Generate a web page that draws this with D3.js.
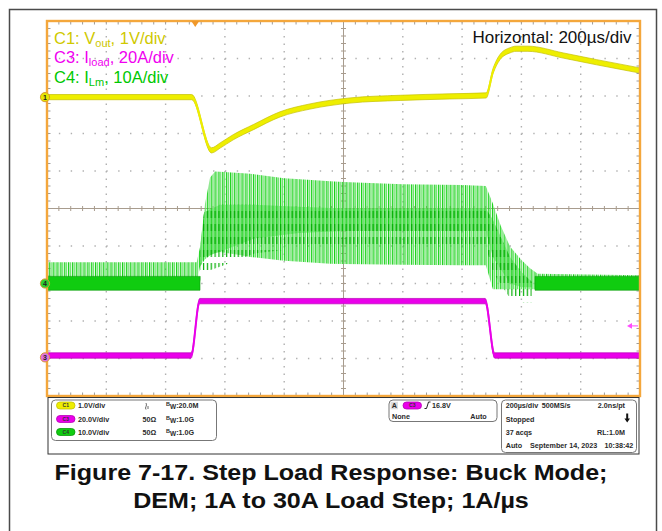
<!DOCTYPE html>
<html>
<head>
<meta charset="utf-8">
<script src="https://cdn.jsdelivr.net/npm/d3@7"></script>
<style>
  body { margin: 0; background: #fff; }
  svg { display: block; font-family: "Liberation Sans", Arial, Helvetica, sans-serif; }
</style>
</head>
<body>
<svg id="chart" width="662" height="531"></svg>
<script>
// ---- horizontal: 200 µs/div, 10 divisions, 0 = trigger ----
const timeDomain = [-500, 1500];
const hDivisions = 10;
const vDivisions = 10;

// ---- C1: Vout deviation (V), 1 V/div ----
const voutTime  = [-500, -12, 55, 84, 128, 196, 286, 387, 522, 691, 859, 981, 1005, 1028, 1062, 1082, 1122, 1241, 1354, 1500];
const voutValue = [0, 0, -1.42, -1.29, -1.07, -0.80, -0.46, -0.25, -0.09, -0.02, 0.02, 0.045, 0.71, 1.07, 1.25, 1.29, 1.29, 1.11, 0.93, 0.71];

// ---- C3: load current (A), 20 A/div ----
const iloadTime  = [-500, -14, 15, 978, 1010, 1500];
const iloadValue = [1, 1, 30, 30, 1, 1];
const triggerLevel = 16.8;

// ---- C4: inductor current (A), 10 A/div ----
// ripple envelope (peak / valley of each switching cycle)
const ilmTime   = [-500, 5, 16, 33, 50, 67, 83, 150, 185, 300, 354, 455, 500, 700, 900, 980, 1004, 1030, 1062, 1101, 1129, 1155, 1500];
const ilmPeak   = [5.7, 5.7, 9.7, 21.3, 28.3, 29.9, 29.8, 29.5, 29.3, 28.1, 27.8, 27.3, 27.1, 26.5, 26.3, 26.0, 21.3, 15.5, 9.8, 6.2, 4.1, 2.6, 2.2];
const ilmValley = [0, 0, 4.5, 6.5, 7.5, 8.2, 8.4, 7.6, 7.1, 6.1, 5.8, 5.3, 5.2, 5.0, 4.9, 4.9, -1.5, -1.5, -1.5, -1.5, -1.5, -1.5, -1.5];
// dense (persistence) region inside the ripple
const ilmDenseTime = [16, 30, 83, 200, 350, 500, 980, 1004, 1062, 1101, 1135];
const ilmDenseHi   = [9, 19, 21, 21, 20.5, 20, 20, 17, 7, 3, 0.5];
const ilmDenseLo   = [4.5, 7, 8.5, 12, 13.5, 14, 14, 7, 0, -1, -1];
// zero-current noise band while the converter skips pulses
const ilmIdleSpans = [[-500, 16], [1146, 1500]];
const ilmIdleHi = 1.9;
const ilmIdleLo = -1.8;
const switchPeriod = 13; // µs

// ---- channel settings ----
const channels = {
  c1: { perDiv: 1,  offset: 2.97,  color: "#eeee00", edge: "#c4c000", label: "1", marker: "#e6e600", text: "#cfc900" },
  c3: { perDiv: 20, offset: -3.97, color: "#ea00ea", edge: "#b800b8", label: "3", marker: "#e070e0", text: "#f000f0" },
  c4: { perDiv: 10, offset: -2,    color: "#10cc10", edge: "#0a9a0a", label: "4", marker: "#30d030", text: "#00c800" }
};

const svg = d3.select("#chart");
const plot = { left: 47, right: 640, top: 21, bottom: 396 };
const x = d3.scaleLinear().domain(timeDomain).range([plot.left, plot.right]);
const yDiv = d3.scaleLinear().domain([-vDivisions / 2, vDivisions / 2]).range([plot.bottom, plot.top]);
const yOf = ch => v => yDiv(v / ch.perDiv + ch.offset);
const yC1 = yOf(channels.c1), yC3 = yOf(channels.c3), yC4 = yOf(channels.c4);
const divW = (plot.right - plot.left) / hDivisions;
const divH = (plot.bottom - plot.top) / vDivisions;

// outer frame
svg.append("rect").attr("x", 9.5).attr("y", 9.5).attr("width", 647).attr("height", 540)
  .attr("fill", "#fff").attr("stroke", "#4a4a4a").attr("stroke-width", 1.5);

// ---- graticule ----
const grid = svg.append("g");
for (let i = 1; i < hDivisions; i++) {
  if (i === hDivisions / 2) continue;
  const gx = plot.left + i * divW;
  grid.append("line").attr("x1", gx).attr("x2", gx).attr("y1", plot.top).attr("y2", plot.bottom)
    .attr("stroke", "#b0b0b0").attr("stroke-width", 1.4)
    .attr("stroke-dasharray", `1.4 ${divH / 5 - 1.4}`);
}
for (let j = 1; j < vDivisions; j++) {
  if (j === vDivisions / 2) continue;
  const gy = plot.top + j * divH;
  grid.append("line").attr("x1", plot.left).attr("x2", plot.right).attr("y1", gy).attr("y2", gy)
    .attr("stroke", "#b0b0b0").attr("stroke-width", 1.4)
    .attr("stroke-dasharray", `1.4 ${divW / 5 - 1.4}`);
}
// centre cross with minor ticks
const cx = plot.left + divW * hDivisions / 2, cy = plot.top + divH * vDivisions / 2;
const crossColor = "#a89c8e";
grid.append("line").attr("x1", plot.left).attr("x2", plot.right).attr("y1", cy).attr("y2", cy).attr("stroke", crossColor);
grid.append("line").attr("x1", cx).attr("x2", cx).attr("y1", plot.top).attr("y2", plot.bottom).attr("stroke", crossColor);
for (let k = 1; k < hDivisions * 5; k++) {
  const tx = plot.left + k * divW / 5;
  grid.append("line").attr("x1", tx).attr("x2", tx).attr("y1", cy - 2.5).attr("y2", cy + 2.5).attr("stroke", crossColor);
  grid.append("line").attr("x1", tx).attr("x2", tx).attr("y1", plot.top).attr("y2", plot.top + 3.5).attr("stroke", "#9c9c9c");
  grid.append("line").attr("x1", tx).attr("x2", tx).attr("y1", plot.bottom - 3.5).attr("y2", plot.bottom).attr("stroke", "#9c9c9c");
}
for (let k = 1; k < vDivisions * 5; k++) {
  const ty = plot.top + k * divH / 5;
  grid.append("line").attr("x1", cx - 2.5).attr("x2", cx + 2.5).attr("y1", ty).attr("y2", ty).attr("stroke", crossColor);
  grid.append("line").attr("x1", plot.left).attr("x2", plot.left + 3.5).attr("y1", ty).attr("y2", ty).attr("stroke", "#9c9c9c");
  grid.append("line").attr("x1", plot.right - 3.5).attr("x2", plot.right).attr("y1", ty).attr("y2", ty).attr("stroke", "#9c9c9c");
}

// ---- C4 inductor current ----
const p = x(switchPeriod) - x(0);
const defs = svg.append("defs");
const ripple = defs.append("pattern").attr("id", "ripple").attr("patternUnits", "userSpaceOnUse")
  .attr("x", x(0)).attr("width", p).attr("height", 20);
ripple.append("rect").attr("x", 0).attr("width", 1.3).attr("height", 20).attr("fill", "#16d216");
ripple.append("rect").attr("x", p * 0.5).attr("width", 1.1).attr("height", 20).attr("fill", "#6fe06f");
const rippleDark = defs.append("pattern").attr("id", "rippleDark").attr("patternUnits", "userSpaceOnUse")
  .attr("x", x(0)).attr("y", 3).attr("width", p).attr("height", 13);
rippleDark.append("rect").attr("x", 0).attr("width", 1.2).attr("height", 7).attr("fill", "#04ad04");

const c4 = svg.append("g");
const idx = ilmTime.map((_, i) => i);
const denseIdx = ilmDenseTime.map((_, i) => i);
c4.append("path")
  .attr("d", d3.area().x(i => x(ilmDenseTime[i])).y0(i => yC4(ilmDenseLo[i])).y1(i => yC4(ilmDenseHi[i]))(denseIdx))
  .attr("fill", "#9de99d");
c4.append("path")
  .attr("d", d3.area().x(i => x(ilmTime[i])).y0(i => yC4(ilmValley[i])).y1(i => yC4(ilmPeak[i]))(idx))
  .attr("fill", "url(#ripple)");
c4.append("path")
  .attr("d", d3.area().x(i => x(ilmDenseTime[i])).y0(i => yC4(ilmDenseLo[i] - 4)).y1(i => yC4(ilmDenseHi[i]))(denseIdx))
  .attr("fill", "url(#rippleDark)");
ilmIdleSpans.forEach(span => {
  c4.append("path")
    .attr("d", d3.area().x(t => x(t)).y0(yC4(ilmIdleLo)).y1(yC4(ilmIdleHi))(span))
    .attr("fill", channels.c4.color).attr("stroke", channels.c4.edge).attr("stroke-width", 0.6);
});

// ---- noisy band traces (C1, C3) ----
function bandTrace(times, values, yFn, ch, half) {
  const g = svg.append("g");
  const pts = times.map((t, i) => [x(t), yFn(values[i])]);
  const area = d3.area().x(d => d[0]).y0(d => d[1] + half).y1(d => d[1] - half).curve(d3.curveMonotoneX);
  g.append("path").attr("d", area(pts)).attr("fill", ch.color).attr("stroke", ch.edge).attr("stroke-width", 0.7);
  g.append("path").attr("d", d3.line().curve(d3.curveMonotoneX)(pts))
    .attr("fill", "none").attr("stroke", ch.color).attr("stroke-width", 2);
}
bandTrace(voutTime, voutValue, yC1, channels.c1, 2.6);
bandTrace(iloadTime, iloadValue, yC3, channels.c3, 2.7);

// ---- plot border ----
svg.append("rect").attr("x", plot.left).attr("y", plot.top)
  .attr("width", plot.right - plot.left).attr("height", plot.bottom - plot.top)
  .attr("fill", "none").attr("stroke", "#f4a73c").attr("stroke-width", 2.4);

// trigger position marker
const tx0 = x(0);
svg.append("path").attr("d", `M${tx0 - 4},${plot.top} L${tx0 + 4},${plot.top} L${tx0},${plot.top + 6} Z`).attr("fill", "#f0982a");
// trigger level marker (C3)
const ty0 = yC3(triggerLevel);
svg.append("path").attr("d", `M${plot.right - 2},${ty0} L${plot.right - 11},${ty0}`).attr("stroke", "#ff6aff").attr("stroke-width", 1.3);
svg.append("path").attr("d", `M${plot.right - 13},${ty0} L${plot.right - 8},${ty0 - 2.8} L${plot.right - 8},${ty0 + 2.8} Z`).attr("fill", "#ff4cff");

// channel ground markers
[channels.c1, channels.c4, channels.c3].forEach(ch => {
  const my = yDiv(ch.offset);
  svg.append("circle").attr("cx", 45).attr("cy", my).attr("r", 4.6)
    .attr("fill", ch.marker).attr("stroke", "#d99a30").attr("stroke-width", 1);
  svg.append("text").attr("x", 45).attr("y", my + 2.5).attr("text-anchor", "middle")
    .attr("font-size", 7).attr("font-weight", "bold").attr("fill", "#222").text(ch.label);
});

// ---- channel legend ----
const legend = [
  { ch: channels.c1, pre: "C1: V", sub: "out", post: ", 1V/div", y: 43.5 },
  { ch: channels.c3, pre: "C3: I", sub: "load", post: ", 20A/div", y: 63.3 },
  { ch: channels.c4, pre: "C4: I", sub: "Lm", post: ", 10A/div", y: 82.7 }
];
legend.forEach(l => {
  const t = svg.append("text").attr("x", 54).attr("y", l.y).attr("font-size", 16.5).attr("fill", l.ch.text);
  t.append("tspan").text(l.pre);
  t.append("tspan").attr("font-size", 11).attr("dy", 3).text(l.sub);
  t.append("tspan").attr("dy", -3).text(l.post);
});
svg.append("text").attr("x", 631.5).attr("y", 42.5).attr("text-anchor", "end")
  .attr("font-size", 17).attr("fill", "#111").text("Horizontal: 200µs/div");

// ---- status panel ----
const panel = svg.append("g").attr("font-size", 7.2).attr("font-weight", "bold").attr("fill", "#2a2a2a");
panel.append("rect").attr("x", 48).attr("y", 397.5).attr("width", 591).attr("height", 56.5)
  .attr("fill", "#fff").attr("stroke", "#333").attr("stroke-width", 1);
panel.append("rect").attr("x", 51.5).attr("y", 400).attr("width", 165).attr("height", 40.5).attr("rx", 4)
  .attr("fill", "#fff").attr("stroke", "#777");
panel.append("rect").attr("x", 389).attr("y", 400).attr("width", 108).attr("height", 21.5).attr("rx", 4)
  .attr("fill", "#fff").attr("stroke", "#777");
panel.append("rect").attr("x", 501.5).attr("y", 400).attr("width", 135).attr("height", 52.5).attr("rx", 4)
  .attr("fill", "#fff").attr("stroke", "#777");

const vertRows = [
  { ch: channels.c1, name: "C1", scale: "1.0V/div", term: "", bw: ":20.0M", y: 408 },
  { ch: channels.c3, name: "C3", scale: "20.0V/div", term: "50Ω", bw: ":1.0G", y: 421.5 },
  { ch: channels.c4, name: "C4", scale: "10.0V/div", term: "50Ω", bw: ":1.0G", y: 434.5 }
];
function badge(g, bx, by, ch, name) {
  g.append("rect").attr("x", bx).attr("y", by - 6).attr("width", 18.5).attr("height", 7).attr("rx", 3.5)
    .attr("fill", ch.color).attr("stroke", ch.edge).attr("stroke-width", 0.8);
  g.append("text").attr("x", bx + 9.25).attr("y", by - 0.6).attr("text-anchor", "middle")
    .attr("font-size", 5).attr("fill", "#333").text(name);
}
vertRows.forEach(r => {
  badge(panel, 56.5, r.y, r.ch, r.name);
  panel.append("text").attr("x", 78).attr("y", r.y).text(r.scale);
  if (r.term) panel.append("text").attr("x", 142.5).attr("y", r.y).text(r.term);
  const bw = panel.append("text").attr("x", 166).attr("y", r.y);
  bw.append("tspan").attr("font-size", 5.5).attr("dy", -2).text("B");
  bw.append("tspan").attr("font-size", 6.5).attr("dy", 3).text("W");
  bw.append("tspan").attr("dy", -1).text(r.bw);
});
// DC coupling glyph for C1
panel.append("path").attr("d", "M146,403 q1,2 0,3.5 q-1,1.5 0,3 M148,406 l0,3")
  .attr("fill", "none").attr("stroke", "#444").attr("stroke-width", 0.8);

// trigger box
panel.append("rect").attr("x", 390.5).attr("y", 401.8).attr("width", 7.5).attr("height", 7.5).attr("fill", "#ddd");
panel.append("text").attr("x", 391.7).attr("y", 408).text("A");
badge(panel, 403, 408, channels.c3, "C3");
panel.append("path").attr("d", "M424.5,408.5 h2 l2,-6.5 h2").attr("fill", "none").attr("stroke", "#222").attr("stroke-width", 1);
panel.append("text").attr("x", 432).attr("y", 408).text("16.8V");
panel.append("text").attr("x", 392).attr("y", 418.5).text("None");
panel.append("text").attr("x", 486.7).attr("y", 418.5).attr("text-anchor", "end").text("Auto");

// acquisition box
panel.append("text").attr("x", 505.7).attr("y", 408).text("200µs/div");
panel.append("text").attr("x", 541.7).attr("y", 408).text("500MS/s");
panel.append("text").attr("x", 625).attr("y", 408).attr("text-anchor", "end").text("2.0ns/pt");
panel.append("text").attr("x", 505.7).attr("y", 421.5).text("Stopped");
panel.append("path").attr("d", "M626.2,413.5 v5 h-1.8 l2.8,4 l2.8,-4 h-1.8 v-5 Z").attr("fill", "#111");
panel.append("text").attr("x", 505.7).attr("y", 435).text("37 acqs");
panel.append("text").attr("x", 625).attr("y", 435).attr("text-anchor", "end").text("RL:1.0M");
panel.append("text").attr("x", 505.7).attr("y", 448).text("Auto");
panel.append("text").attr("x", 530).attr("y", 448).text("September 14, 2023");
panel.append("text").attr("x", 633.3).attr("y", 448).attr("text-anchor", "end").text("10:38:42");

// ---- caption (set slightly wide) ----
const captionX = 331;
const caption = svg.append("g").attr("font-size", 22).attr("font-weight", "bold").attr("fill", "#111")
  .attr("text-anchor", "middle")
  .attr("transform", `translate(${captionX},0) scale(1.14,1)`);
caption.append("text").attr("x", 0).attr("y", 480).text("Figure 7-17. Step Load Response: Buck Mode;");
caption.append("text").attr("x", 0).attr("y", 508.3).text("DEM; 1A to 30A Load Step; 1A/µs");
</script>
</body>
</html>
